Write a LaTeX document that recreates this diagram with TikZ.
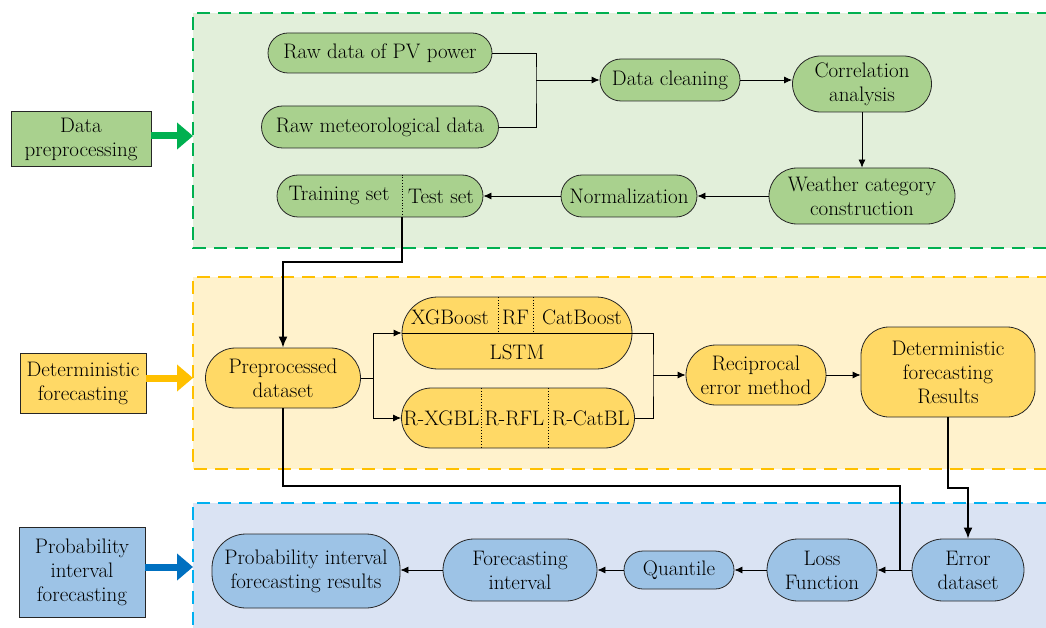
\documentclass[tikz,border=0pt]{standalone}
\usepackage{fontspec}
\usetikzlibrary{arrows.meta,calc}
\definecolor{gnode}{HTML}{A9D18E}
\definecolor{gpanel}{HTML}{E2EFDA}
\definecolor{gline}{HTML}{00B050}
\definecolor{ynode}{HTML}{FFD966}
\definecolor{ypanel}{HTML}{FFF2CC}
\definecolor{yline}{HTML}{FFC000}
\definecolor{bnode}{HTML}{9DC3E6}
\definecolor{bpanel}{HTML}{DAE3F3}
\definecolor{bline}{HTML}{00B0F0}
\definecolor{barrow}{HTML}{0070C0}
\begin{document}
\begin{tikzpicture}[x=1pt,y=-1pt,
  every node/.style={font=\fontsize{21}{24}\selectfont},
  pill/.style={draw=black!85, line width=0.8pt, rounded corners=#1, align=center, inner sep=1pt},
  label/.style={draw=black!85, line width=0.8pt, align=center, inner sep=1pt},
  panel/.style={line width=2.4pt, dash pattern=on 13pt off 8pt},
  thin/.style={line width=0.8pt, -{Latex[length=8pt,width=7pt]}},
  thinl/.style={line width=0.8pt},
  thickarr/.style={line width=1.8pt, -{Latex[length=11pt,width=9pt]}},
  thickl/.style={line width=1.8pt},
  bigarrow/.style={line width=7pt, -{Triangle[length=16pt,width=26pt]}},
  txt/.style={inner sep=0pt},
  dv/.style={line width=0.8pt, dotted}
]
\useasboundingbox (0,0) rectangle (1046,628);
% panels
\fill[gpanel] (193,13) rectangle (1050,248);
\draw[panel, draw=gline] (1050,13) -- (193,13) -- (193,248) -- (1050,248);
\fill[ypanel] (193,277) rectangle (1050,469);
\draw[panel, draw=yline] (1050,277) -- (193,277) -- (193,469) -- (1050,469);
\fill[bpanel] (193,503) rectangle (1050,640);
\draw[panel, draw=bline] (1050,503) -- (193,503) -- (193,640);

% left labels
\node[label, fill=gnode, minimum width=140, minimum height=55] (dp) at (81,139) {Data\\preprocessing};
\node[label, fill=ynode, minimum width=126, minimum height=60] (df) at (83,383) {Deterministic\\forecasting};
\node[label, fill=bnode, minimum width=126, minimum height=90] (pf) at (82,572) {Probability\\interval\\forecasting};
\coordinate (gp) at (193,136);
\coordinate (yp) at (193,378);
\coordinate (bp) at (193,567);
\draw[bigarrow, draw=gline, fill=gline] (dp.east |- gp) -- (gp);
\draw[bigarrow, draw=yline, fill=yline] (df.east |- yp) -- (yp);
\draw[bigarrow, draw=barrow, fill=barrow] (pf.east |- bp) -- (bp);

% green nodes
\node[pill=20pt, fill=gnode, minimum width=224, minimum height=40] (rawpv) at (380,53) {Raw data of PV power};
\node[pill=21pt, fill=gnode, minimum width=237, minimum height=42] (rawmet) at (380,127) {Raw meteorological data};
\node[pill=21pt, fill=gnode, minimum width=140, minimum height=42] (clean) at (670,80) {Data cleaning};
\node[pill=28pt, fill=gnode, minimum width=139, minimum height=56] (corr) at (862,84) {Correlation\\analysis};
\node[pill=28pt, fill=gnode, minimum width=186, minimum height=56] (weather) at (862,196) {Weather category\\construction};
\node[pill=21pt, fill=gnode, minimum width=136, minimum height=42] (norm) at (629,196) {Normalization};
\node[pill=21pt, fill=gnode, minimum width=206, minimum height=42] (tt) at (380,196) {};
\coordinate (ttdiv) at (402,196);
\draw[dv] (ttdiv |- tt.north) -- (ttdiv |- tt.south);
\node[txt] (train) at (339,196) {Training set};
\node[txt] (test) at (441,196) {Test set};

\coordinate (j1) at (536,80);
\draw[thinl] (rawpv.east) -| (j1) |- (rawmet.east);
\draw[thin] (j1) -- (clean.west);
\draw[thin] (clean.east) -- (corr.west |- clean.east);
\draw[thin] (corr.south) -- (weather.north);
\draw[thin] (weather.west) -- (norm.east);
\draw[thin] (norm.west) -- (tt.east);

% yellow nodes
\node[pill=30pt, fill=ynode, minimum width=155, minimum height=60] (pre) at (283,378) {Preprocessed\\dataset};
\node[pill=35.9pt, fill=ynode, minimum width=230, minimum height=72] (models) at (517,333) {};
\draw[thinl] (models.west) -- (models.east);
\draw[dv] (498,297) -- (498,333);
\draw[dv] (533,297) -- (533,333);
\node[txt] (xgb) at (450,317) {XGBoost};
\node[txt] (rf) at (515.5,317) {RF};
\node[txt] (cat) at (582,317) {CatBoost};
\node[txt] (lstm) at (517,352) {LSTM};
\node[pill=30pt, fill=ynode, minimum width=233, minimum height=60] (rmodels) at (518,418) {};
\draw[dv] (481,388) -- (481,448);
\draw[dv] (548,388) -- (548,448);
\node[txt] (rxgb) at (441.5,418) {R-XGBL};
\node[txt] (rrf) at (514.5,418) {R-RFL};
\node[txt] (rcat) at (591,418) {R-CatBL};
\node[pill=30pt, fill=ynode, minimum width=140, minimum height=60] (recip) at (756,375) {Reciprocal\\error method};
\node[pill=28pt, fill=ynode, minimum width=174, minimum height=90] (detres) at (948,372) {Deterministic\\forecasting\\Results};

\coordinate (j2) at (373,378);
\draw[thin] (pre.east) -- (j2) |- (models.west);
\draw[thin] (j2) |- (rmodels.west);
\coordinate (j3) at (653,375);
\draw[thinl] (models.east) -| (j3) |- (rmodels.east);
\draw[thin] (j3) -- (recip.west);
\draw[thin] (recip.east) -- (detres.west |- recip.east);

% thick link from training/test to preprocessed
\coordinate (k1) at (402,262);
\draw[thickarr] (ttdiv |- tt.south) -- (k1) -| (pre.north);

% blue nodes
\node[pill=31pt, fill=bnode, minimum width=112, minimum height=62] (err) at (968,570) {Error\\dataset};
\node[pill=31pt, fill=bnode, minimum width=110, minimum height=62] (loss) at (822,570) {Loss\\Function};
\node[pill=19pt, fill=bnode, minimum width=110, minimum height=38] (quant) at (679,570) {Quantile};
\node[pill=31pt, fill=bnode, minimum width=154, minimum height=62] (fint) at (520,570) {Forecasting\\interval};
\node[pill=34pt, fill=bnode, minimum width=188, minimum height=74] (pres) at (306,571) {Probability interval\\forecasting results};

\draw[thin] (err.west) -- (loss.east);
\draw[thin] (loss.west) -- (quant.east);
\draw[thin] (quant.west) -- (fint.east);
\draw[thin] (fint.west) -- (pres.east |- fint.west);

\coordinate (k2) at (948,488);
\draw[thickarr] (detres.south) -- (k2) -| (err.north);
\coordinate (k3) at (900,486);
\coordinate (k4) at (900,570);
\draw[thickl] (pre.south) |- (k3) -- (k4);
\end{tikzpicture}
\end{document}
